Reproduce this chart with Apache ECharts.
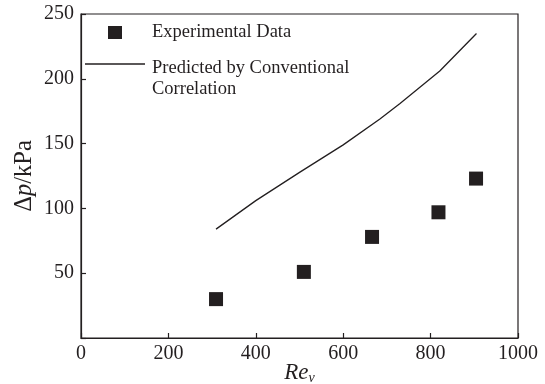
<!DOCTYPE html>
<html><head><meta charset="utf-8">
<script src="https://cdn.jsdelivr.net/npm/echarts@6/dist/echarts.min.js"></script>
<style>html,body{margin:0;padding:0;background:#fff}#c{width:545px;height:384px}</style>
</head><body><div id="c"></div>
<script>
var expRe = [309, 510, 666, 818, 904];
var expDp = [30, 51, 78, 97, 123];
var predRe = [309, 400, 501, 600, 684, 730, 821, 905];
var predDp = [84, 106, 128, 149, 169, 181, 206, 235];
var xTicks = [0, 200, 400, 600, 800, 1000];
var yTicks = [50, 100, 150, 200, 250];
var legendExp = 'Experimental Data';
var legendPred = ['Predicted by Conventional', 'Correlation'];

var ink = '#231f20';
var font = '"Liberation Serif", "Times New Roman", serif';
var chart = echarts.init(document.getElementById('c'));
chart.setOption({
  animation: false,
  grid: {left: 81, right: 27, top: 14, bottom: 46, containLabel: false, outerBoundsMode: 'none',
    show: true, borderColor: ink, borderWidth: 1.2, backgroundColor: 'transparent'},
  xAxis: {
    type: 'value', min: 0, max: 1000, interval: 200,
    axisLine: {lineStyle: {color: ink, width: 1.2}},
    axisTick: {inside: true, length: 5, lineStyle: {color: ink, width: 1.2}},
    splitLine: {show: false},
    axisLabel: {color: ink, fontFamily: font, fontSize: 20, margin: 6,
      formatter: function(v){ return xTicks.indexOf(v) >= 0 ? String(v) : ''; }},
    name: '{i|Re}{s|v}', nameLocation: 'middle', nameGap: 23, nameMoveOverlap: false,
    nameTextStyle: {verticalAlign: 'top', rich: {
      i: {fontFamily: font, fontStyle: 'italic', fontSize: 23, color: ink},
      s: {fontFamily: font, fontStyle: 'italic', fontSize: 14, color: ink, padding: [10, 0, 0, 0]}
    }}
  },
  yAxis: {
    type: 'value', min: 0, max: 250, interval: 50,
    axisLine: {show: true, lineStyle: {color: ink, width: 1.2}},
    axisTick: {show: true, inside: true, length: 5, lineStyle: {color: ink, width: 1.2}},
    splitLine: {show: false},
    axisLabel: {color: ink, fontFamily: font, fontSize: 20, margin: 7,
      formatter: function(v){ return yTicks.indexOf(v) >= 0 ? String(v) : ''; }},
    name: '{n|Δ}{i|p}{n|/kPa}', nameLocation: 'middle', nameGap: 44, nameRotate: 90, nameMoveOverlap: false,
    nameTextStyle: {rich: {
      n: {fontFamily: font, fontSize: 24.5, color: ink},
      i: {fontFamily: font, fontStyle: 'italic', fontSize: 24.5, color: ink}
    }}
  },
  series: [
    {type: 'line', data: predRe.map(function(x, i){ return [x, predDp[i]]; }),
     smooth: false, showSymbol: false, lineStyle: {color: ink, width: 1.3}},
    {type: 'scatter', data: expRe.map(function(x, i){ return [x, expDp[i]]; }),
     symbol: 'rect', symbolSize: 14, itemStyle: {color: ink, opacity: 1}}
  ],
  graphic: [
    {type: 'rect', shape: {x: 108, y: 26, width: 14, height: 13}, style: {fill: ink}},
    {type: 'text', left: 152, top: 23, style: {text: legendExp, font: '18.5px ' + font, fill: ink}},
    {type: 'line', shape: {x1: 85, y1: 64, x2: 145, y2: 64}, style: {stroke: ink, lineWidth: 1.3}},
    {type: 'text', left: 152, top: 59, style: {text: legendPred[0], font: '18.5px ' + font, fill: ink}},
    {type: 'text', left: 152, top: 80, style: {text: legendPred[1], font: '18.5px ' + font, fill: ink}}
  ]
});
</script></body></html>
